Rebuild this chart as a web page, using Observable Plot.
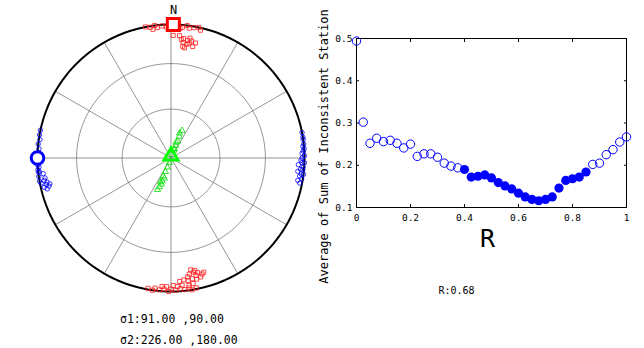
<!DOCTYPE html>
<html><head><meta charset="utf-8">
<script src="https://cdn.jsdelivr.net/npm/d3@7"></script>
<script src="https://cdn.jsdelivr.net/npm/@observablehq/plot@0.6"></script>
<style>
body{margin:0;background:#fff;}
#wrap{position:relative;width:644px;height:348px;overflow:hidden;font-family:"DejaVu Sans Mono",monospace;}
#wrap > svg, #wrap > div{position:absolute;}
.txt{white-space:pre;color:#000;font-size:11.5px;line-height:14px;}
</style></head><body><div id="wrap"></div>
<script>
// ---- stereonet data (trend, plunge in degrees) ----
const redNorthTrend  = [349,351,352,353,354,356,358,2,4,5,7,8,10,12,13, 1,4,5,6,8,9,6,9,10,6,8,11,12,7];
const redNorthPlunge = [0,1,3,0,2,1,2,1,3,2,0,2,1,0,2, 9,9,12,11,12,10,14,14,12,17,15,16,13,18];
const redSouthTrend  = [190,188,187,185,183,181,180,178,176,174,172,171,169, 184,182,179,177,175,172,170, 176,174,172,170,168,166, 172,168,165,164, 171,169,167, 170,168];
const redSouthPlunge = [1,0,2,1,2,0,2,1,2,1,2,0,1, 4,4,5,4,5,4,5, 8,9,8,9,8,9, 11,11,11,12, 13,14,13, 16,15];
const blueWestTrend  = [272,274,276,278,280,282, 268,267,266,265,264,264,263,262,261,260,260,259,259,258,258,257,256,257];
const blueWestPlunge = [0,1,0,1,0,0, 0,0,1,0,1,0,4,0,5,0,4,6,1,5,8,3,5,7];
const blueEastTrend  = [79,81,82,84,85,86,87,88,89,90,91,92,92,93,94,95,95,96,97,97,98,99,100,101];
const blueEastPlunge = [0,0,0,0,1,0,1,2,0,2,3,0,2,5,1,3,1,5,2,0,3,1,4,2];
const greenTrend  = [20,21,20,22,21,19,22,18,20, 200,201,202,203,201,200,202,198,204,203];
const greenPlunge = [88,85,82,79,76,74,72,80,84, 87,84,81,78,75,73,71,77,74,69];
const sigmaRed   = [1, 0];    // large square
const sigmaBlue  = [270, 0];  // large circle
const sigmaGreen = [0, 90];   // large triangle
const gridPlunges = [30, 60];
const gridTrends = [0, 30, 60, 90, 120, 150];
const northLabel = "N";
const sigmaLines = ["σ1:91.00 ,90.00", "σ2:226.00 ,180.00"];

// ---- R curve data ----
const rValues = [0,0.025,0.05,0.075,0.1,0.125,0.15,0.175,0.2,0.225,0.25,0.275,0.3,0.325,0.35,0.375,0.4,0.425,0.45,0.475,0.5,0.525,0.55,0.575,0.6,0.625,0.65,0.675,0.7,0.725,0.75,0.775,0.8,0.825,0.85,0.875,0.9,0.925,0.95,0.975,1];
const avgValues = [0.494,0.302,0.252,0.264,0.256,0.259,0.252,0.241,0.250,0.221,0.227,0.227,0.219,0.205,0.198,0.194,0.190,0.172,0.174,0.177,0.170,0.159,0.151,0.144,0.134,0.125,0.119,0.116,0.119,0.125,0.146,0.164,0.168,0.172,0.184,0.202,0.205,0.225,0.237,0.255,0.267];
const filledFlags = [0,0,0,0,0,0,0,0,0,0,0,0,0,0,0,0,1,1,1,1,1,1,1,1,1,1,1,1,1,1,1,1,1,1,1,0,0,0,0,0,0];
const xTicks = [0,0.2,0.4,0.6,0.8,1];
const yTicks = [0.1,0.2,0.3,0.4,0.5];
const yLabel = "Average of Sum of Inconsistent Station";
const xLabel = "R";
const bestR = "R:0.68";

// projection (equal-area, lower hemisphere)
const rad = Math.PI/180;
function proj(trend, plunge){
  const rho = Math.SQRT2*Math.sin((90-plunge)/2*rad);
  return {x: rho*Math.sin(trend*rad), y: rho*Math.cos(trend*rad)};
}
function pts(tr, pl){ return tr.map((t,i)=>proj(t, pl[i])); }
const circleAngles = d3.range(0, 361, 2);
function circlePts(plunge, g){ return circleAngles.map(a => ({...proj(a, plunge), g})); }

const wrap = document.getElementById("wrap");

const stereo = Plot.plot({
  width: 341, height: 300,
  marginLeft: 37, marginRight: 37, marginTop: 24, marginBottom: 9,
  x: {domain: [-1, 1], axis: null},
  y: {domain: [-1, 1], axis: null},
  style: {fontFamily: "DejaVu Sans Mono", overflow: "visible", background: "transparent"},
  marks: [
    Plot.line(gridPlunges.flatMap(p => circlePts(p, p)), {x: "x", y: "y", z: "g", stroke: "#7a7a7a", strokeWidth: 0.8}),
    Plot.link(gridTrends, {x1: t => -proj(t,0).x, y1: t => -proj(t,0).y, x2: t => proj(t,0).x, y2: t => proj(t,0).y, stroke: "#7a7a7a", strokeWidth: 0.8}),
    Plot.line(circlePts(0, 0), {x: "x", y: "y", stroke: "#000", strokeWidth: 2}),
    Plot.text([northLabel], {x: 0, y: 1, dx: 2.5, dy: -14, fontSize: 12, fill: "#000"}),
    Plot.dot(pts(redNorthTrend, redNorthPlunge), {x: "x", y: "y", symbol: "square", r: 2.3, stroke: "#ff2020", strokeWidth: 0.8, fill: "none"}),
    Plot.dot(pts(redSouthTrend, redSouthPlunge), {x: "x", y: "y", symbol: "square", r: 2.3, stroke: "#ff2020", strokeWidth: 0.8, fill: "none"}),
    Plot.dot(pts(blueWestTrend, blueWestPlunge), {x: "x", y: "y", symbol: "circle", r: 2.2, stroke: "#0000ff", strokeWidth: 0.8, fill: "none"}),
    Plot.dot(pts(blueEastTrend, blueEastPlunge), {x: "x", y: "y", symbol: "circle", r: 2.2, stroke: "#0000ff", strokeWidth: 0.8, fill: "none"}),
    Plot.dot(pts(greenTrend, greenPlunge), {x: "x", y: "y", symbol: "triangle", r: 2.3, stroke: "#00e000", strokeWidth: 0.8, fill: "none"}),
    Plot.dot([proj(...sigmaRed)], {x: "x", y: "y", symbol: "square", r: 6.8, stroke: "#ff0000", strokeWidth: 3, fill: "#fff"}),
    Plot.dot([proj(...sigmaBlue)], {x: "x", y: "y", symbol: "circle", r: 6.3, stroke: "#0000ff", strokeWidth: 3, fill: "#fff"}),
    Plot.dot([proj(...sigmaGreen)], {x: "x", y: "y", symbol: "triangle", r: 5.2, stroke: "#00ff00", strokeWidth: 3, fill: "none", dy: -2})
  ]
});
stereo.style.left = "0px"; stereo.style.top = "0px";
wrap.appendChild(stereo);

sigmaLines.forEach((s, i) => {
  const d = document.createElement("div");
  d.className = "txt";
  d.textContent = s;
  d.style.left = "120px";
  d.style.top = (312 + i*21) + "px";
  wrap.appendChild(d);
});

const curve = rValues.map((r, i) => ({r, v: avgValues[i], filled: filledFlags[i] === 1}));

const chart = Plot.plot({
  width: 334, height: 300,
  marginLeft: 46, marginRight: 18, marginTop: 38, marginBottom: 93,
  x: {domain: [0, 1]},
  y: {domain: [0.1, 0.5]},
  style: {fontFamily: "DejaVu Sans Mono", fontSize: "9.5px", overflow: "visible", background: "transparent", color: "#000"},
  marks: [
    Plot.frame({stroke: "#000", strokeWidth: 1}),
    Plot.axisX(xTicks, {anchor: "bottom", tickSize: -3, tickPadding: 10, tickFormat: d => String(d), label: null}),
    Plot.axisX(xTicks, {anchor: "top", tickSize: -3, tickFormat: () => "", label: null}),
    Plot.axisY(yTicks, {anchor: "left", tickSize: -3, tickPadding: 7, tickFormat: d => String(d), label: null}),
    Plot.axisY(yTicks, {anchor: "right", tickSize: -3, tickFormat: () => "", label: null}),
    Plot.dot(curve.filter(d => !d.filled), {x: "r", y: "v", r: 4.2, stroke: "#0000ff", strokeWidth: 1, fill: "none"}),
    Plot.dot(curve.filter(d => d.filled), {x: "r", y: "v", r: 4.6, fill: "#0000ff", stroke: "none"}),
    Plot.text([yLabel], {frameAnchor: "left", textAnchor: "middle", dx: -32, dy: 23.5, rotate: -90, fontSize: 12, fill: "#000"}),
    Plot.text([xLabel], {frameAnchor: "bottom", textAnchor: "middle", dx: -4, dy: 39, fontSize: 25, fill: "#000"}),
    Plot.text([bestR], {frameAnchor: "bottom", textAnchor: "middle", dx: -35, dy: 86, fontSize: 10, fill: "#000"})
  ]
});
chart.style.left = "310px"; chart.style.top = "0px";
wrap.appendChild(chart);
</script>
</body></html>
